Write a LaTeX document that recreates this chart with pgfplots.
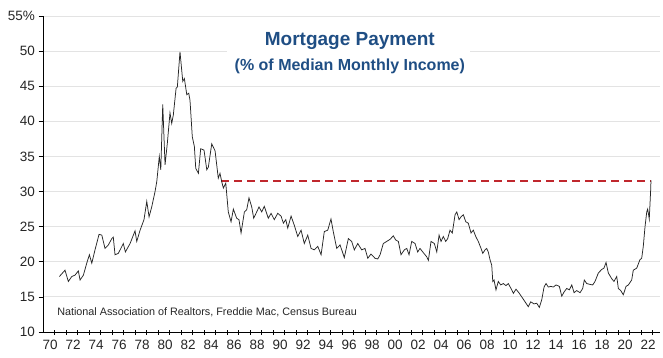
\documentclass[border=0pt]{standalone}
\usepackage{fontspec}
\setmainfont{Liberation Sans}
\usepackage{pgfplots}
\usepackage{pgfplotstable}
\pgfplotsset{compat=1.18}
\definecolor{titleblue}{HTML}{1F4E84}
\definecolor{dashred}{HTML}{C0272D}
\definecolor{gridgray}{HTML}{E3E3E3}
\definecolor{txt}{HTML}{262626}

\pgfplotstableread{
yr v
1970.81 17.9
1971.30 18.8
1971.59 17.2
1971.89 17.9
1972.17 18.1
1972.46 18.7
1972.61 17.4
1972.90 18.1
1973.19 19.8
1973.42 21.0
1973.63 19.8
1973.91 21.7
1974.26 23.9
1974.50 23.8
1974.78 21.9
1975.07 22.4
1975.37 23.3
1975.50 23.5
1975.65 21.0
1975.94 21.2
1976.37 22.6
1976.55 21.4
1976.96 22.6
1977.39 24.4
1977.54 22.9
1977.83 24.5
1978.17 26.0
1978.41 28.6
1978.61 26.4
1978.84 27.8
1979.13 30.0
1979.28 31.4
1979.50 35.0
1979.63 33.1
1979.80 42.4
1980.00 33.8
1980.20 36.9
1980.43 41.2
1980.58 39.7
1980.72 40.9
1980.96 44.7
1981.07 44.9
1981.30 49.9
1981.54 45.7
1981.68 46.1
1981.89 43.8
1982.06 44.0
1982.17 43.0
1982.37 37.8
1982.55 36.4
1982.67 33.3
1982.90 32.6
1983.10 36.1
1983.39 35.9
1983.63 33.1
1983.77 33.5
1984.06 36.8
1984.35 35.8
1984.63 31.9
1984.78 32.6
1984.93 31.4
1985.07 30.5
1985.28 31.2
1985.50 27.1
1985.74 25.7
1985.94 27.5
1986.23 26.2
1986.43 26.0
1986.61 24.1
1986.90 27.1
1987.10 27.4
1987.30 29.1
1987.54 27.8
1987.71 26.2
1987.97 27.1
1988.17 27.8
1988.41 27.1
1988.63 27.9
1988.98 26.2
1989.22 26.9
1989.50 26.0
1989.80 26.9
1990.09 26.5
1990.29 25.5
1990.50 26.0
1990.67 24.8
1990.96 26.5
1991.24 25.2
1991.54 23.6
1991.83 24.5
1992.11 22.6
1992.41 23.8
1992.70 21.9
1992.98 21.7
1993.28 22.2
1993.57 21.0
1993.85 24.3
1994.15 24.5
1994.43 26.1
1994.63 24.3
1994.93 21.9
1995.22 22.4
1995.59 20.6
1995.94 23.3
1996.23 22.9
1996.46 21.7
1996.76 22.6
1997.10 21.7
1997.39 21.9
1997.63 20.5
1997.91 21.1
1998.26 20.5
1998.50 20.4
1998.70 21.0
1998.98 22.6
1999.28 22.9
1999.57 23.2
1999.85 23.7
2000.06 23.1
2000.29 22.9
2000.52 21.0
2000.81 21.7
2001.02 21.9
2001.22 21.0
2001.45 22.9
2001.74 22.6
2001.97 21.4
2002.17 21.9
2002.46 21.3
2002.76 20.7
2002.90 20.2
2003.13 22.9
2003.42 22.6
2003.63 21.4
2003.83 23.8
2004.00 22.9
2004.20 23.6
2004.41 22.9
2004.58 23.3
2004.78 24.5
2004.98 24.1
2005.22 26.7
2005.37 27.1
2005.57 26.0
2005.74 26.4
2005.94 26.7
2006.15 25.7
2006.37 25.5
2006.61 24.1
2006.81 24.5
2007.02 23.6
2007.24 22.9
2007.48 21.9
2007.63 21.2
2007.83 21.7
2007.97 21.9
2008.11 21.4
2008.26 20.3
2008.41 19.5
2008.50 17.2
2008.61 17.4
2008.78 16.0
2008.98 17.2
2009.19 16.7
2009.42 16.9
2009.65 16.6
2009.85 16.9
2010.15 16.0
2010.29 15.5
2010.52 16.1
2010.81 15.5
2011.10 14.8
2011.39 14.1
2011.59 13.6
2011.80 14.3
2012.09 14.0
2012.32 14.1
2012.55 13.5
2012.76 14.6
2012.96 16.4
2013.13 16.9
2013.33 16.4
2013.54 16.5
2013.77 16.4
2014.00 16.7
2014.29 16.5
2014.50 15.1
2014.70 15.7
2014.93 16.2
2015.16 16.0
2015.37 16.7
2015.57 15.6
2015.80 15.9
2016.09 15.6
2016.32 16.2
2016.46 17.4
2016.67 16.9
2016.90 16.8
2017.19 16.7
2017.39 17.2
2017.68 18.4
2017.97 18.9
2018.17 19.1
2018.35 19.9
2018.55 18.4
2018.84 17.6
2019.04 17.2
2019.28 17.9
2019.42 16.2
2019.63 15.9
2019.85 15.3
2020.09 16.5
2020.29 16.7
2020.58 17.4
2020.72 18.8
2021.02 19.1
2021.30 20.3
2021.45 20.5
2021.59 22.2
2021.74 25.0
2021.89 27.1
2021.97 27.5
2022.11 26.1
2022.23 30.2
2022.26 31.6
}\payment

\begin{document}
\begin{tikzpicture}
\begin{axis}[
  scale only axis,
  width=616bp, height=316bp,
  xmin=1969.43, xmax=2023.0,
  ymin=10, ymax=55,
  axis x line*=bottom, axis y line*=left,
  axis line style={black, line width=0.7bp, -},
  major tick length=5bp,
  xtick align=center, ytick align=outside,
  tick style={black, line width=0.7bp},
  xtick={1970.4,1971.4,...,2022.5},
  xticklabels={70,,72,,74,,76,,78,,80,,82,,84,,86,,88,,90,,92,,94,,96,,98,,00,,02,,04,,06,,08,,10,,12,,14,,16,,18,,20,,22},
  xticklabel style={xshift=-4.6bp, yshift=-2bp},
  ytick={10,15,...,55},
  yticklabels={10,15,20,25,30,35,40,45,50,55\%},
  ticklabel style={font=\fontsize{13.5bp}{15bp}\selectfont, text=txt},
  ymajorgrids, grid style={gridgray, line width=0.8bp},
  clip=false,
]
\fill[white] (axis cs:1985.39,45.9) rectangle (axis cs:2006.52,54.16);
\node[anchor=base, font=\bfseries\fontsize{19bp}{22bp}\selectfont, text=titleblue]
  at (axis cs:1996.07,50.77) {Mortgage Payment};
\node[anchor=base, font=\bfseries\fontsize{16bp}{19bp}\selectfont, text=titleblue]
  at (axis cs:1996.07,47.31) {(\% of Median Monthly Income)};
\node[anchor=base west, inner sep=0pt, font=\fontsize{10.8bp}{13bp}\selectfont, text=txt]
  at (axis cs:1970.61,12.28) {National Association of Realtors, Freddie Mac, Census Bureau};
\addplot[dashred, line width=1.2bp, dash pattern=on 8bp off 5bp] coordinates {(1984.87,31.5) (2022.26,31.5)};
\addplot[black!85, line width=0.75bp] table[x=yr, y=v] {\payment};
\end{axis}
\pgfresetboundingbox
\path[use as bounding box] ([xshift=-43.5bp,yshift=-26bp]current axis.south west) rectangle ++(663bp,358bp);
\end{tikzpicture}
\end{document}
